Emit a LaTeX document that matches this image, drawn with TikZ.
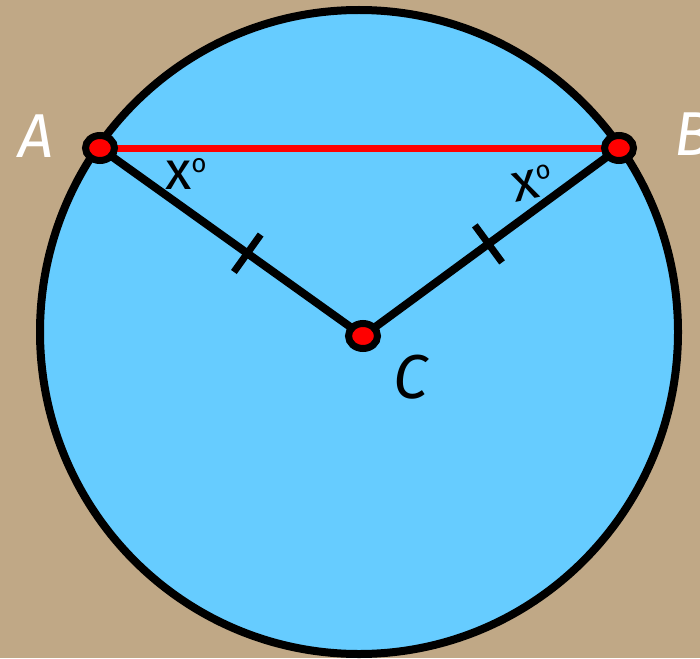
\documentclass[tikz,border=0pt]{standalone}
\usepackage{fontspec}
\setmainfont{Fira Sans}
\usetikzlibrary{calc,shapes.geometric,backgrounds}
\definecolor{bgtan}{RGB}{192,168,134}
\definecolor{diskblue}{RGB}{102,204,255}
\definecolor{ptred}{RGB}{255,0,0}
\tikzset{
  dotnode/.style={ellipse,draw=black,fill=ptred,line width=7pt,minimum width=29pt,minimum height=25pt,inner sep=0pt},
  radiusline/.style={line width=8pt,black},
  chordline/.style={line width=7pt,ptred},
  tickmark/.style={line width=7pt,black},
  bigletter/.style={font=\fontsize{62}{62}\selectfont\itshape,inner sep=0pt},
  anglelabel/.style={font=\fontsize{54}{54}\selectfont,inner sep=0pt,anchor=base west}
}
\begin{document}
\begin{tikzpicture}[x=1pt,y=-1pt]
\useasboundingbox (0,0) rectangle (700,658);
\clip (0,0) rectangle (700,658);
% points
\node[dotnode] (A) at (100,148) {};
\node[dotnode] (B) at (619,148) {};
\node[dotnode] (C) at (363,336) {};
\begin{scope}[on background layer]
  \fill[bgtan] (0,0) rectangle (700,658);
  \draw[line width=8pt,fill=diskblue] (359,332) ellipse [x radius=319,y radius=322];
  \draw[chordline] (A.center) -- (B.center);
  \draw[radiusline] (A.center) -- (C.center);
  \draw[radiusline] (B.center) -- (C.center);
\end{scope}
% equal-length ticks
\coordinate (tA) at ($(A)!0.56!(C)$);
\coordinate (tB) at ($(B)!0.51!(C)$);
\draw[tickmark] ($(tA)!23pt!90:(C)$) -- ($(tA)!23pt!-90:(C)$);
\draw[tickmark] ($(tB)!23pt!90:(C)$) -- ($(tB)!23pt!-90:(C)$);
% labels
\node[bigletter,white] (labA) at (36,136) {A};
\node[bigletter,white] (labB) at (693,134) {B};
\node[bigletter,black] (labC) at (411,377) {C};
\node[anglelabel] (angA) at (165,189) {x\raisebox{17pt}{\fontsize{26}{26}\selectfont o}};
\node[anglelabel,rotate=12] (angB) at (515,203) {x\raisebox{17pt}{\fontsize{26}{26}\selectfont o}};
\end{tikzpicture}
\end{document}
